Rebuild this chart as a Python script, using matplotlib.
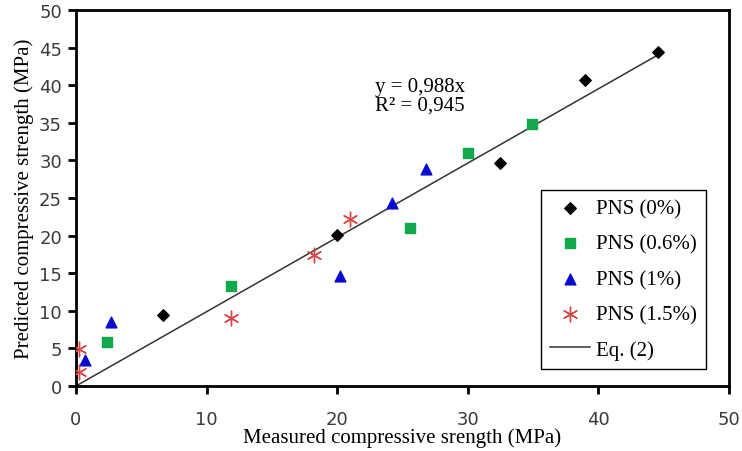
import matplotlib
matplotlib.use("Agg")
import matplotlib.pyplot as plt
import numpy as np

# Measured vs. predicted compressive strength (MPa) for each PNS dosage
pns0_measured = [6.7, 20.0, 32.5, 39.0, 44.6]
pns0_predicted = [9.4, 20.1, 29.7, 40.7, 44.4]

pns06_measured = [2.4, 11.9, 25.6, 30.0, 34.9]
pns06_predicted = [5.85, 13.3, 21.0, 31.0, 34.8]

pns1_measured = [0.7, 2.7, 20.2, 24.2, 26.8]
pns1_predicted = [3.4, 8.5, 14.6, 24.4, 28.8]

pns15_measured = [0.2, 0.2, 11.9, 18.2, 21.0]
pns15_predicted = [4.9, 1.9, 9.0, 17.4, 22.2]

slope = 0.988
r_squared = 0.945
fit_x_end = 44.7

x_ticks = [0, 10, 20, 30, 40, 50]
y_ticks = [0, 5, 10, 15, 20, 25, 30, 35, 40, 45, 50]

serif = ["Liberation Serif", "DejaVu Serif"]
sans = ["DejaVu Sans"]

fig = plt.figure(figsize=(7.42, 4.52), dpi=100)
ax = fig.add_axes([0.1024, 0.1438, 0.8801, 0.8319])

ax.scatter(pns0_measured, pns0_predicted, marker="D", s=34, color="black",
           label="PNS (0%)", zorder=3)
ax.scatter(pns06_measured, pns06_predicted, marker="s", s=60, color="#12a84c",
           label="PNS (0.6%)", zorder=3)
ax.scatter(pns1_measured, pns1_predicted, marker="^", s=60, color="#0a0ad0",
           label="PNS (1%)", zorder=3)
ax.scatter(pns15_measured, pns15_predicted, marker=(6, 2, 0), s=110,
           color="#d84545", linewidths=1.0, label="PNS (1.5%)", zorder=3)

fit_x = np.array([0.0, fit_x_end])
ax.plot(fit_x, slope * fit_x, color="#333333", linewidth=1.1,
        label="Eq. (2)", zorder=2)

ax.text(22.9, 39.8, f"y = {slope:.3f}x".replace(".", ","),
        fontfamily=serif, fontsize=15, ha="left", va="center")
ax.text(22.9, 37.4, f"R² = {r_squared:.3f}".replace(".", ","),
        fontfamily=serif, fontsize=15, ha="left", va="center")

ax.set_xlim(0, 50)
ax.set_ylim(0, 50)
ax.set_xticks(x_ticks)
ax.set_yticks(y_ticks)
ax.tick_params(axis="both", direction="out", length=6, width=2,
               labelsize=13, colors="black")
ax.tick_params(axis="x", pad=11)
ax.tick_params(axis="y", pad=4)
for lab in ax.get_xticklabels() + ax.get_yticklabels():
    lab.set_fontfamily(sans)
    lab.set_color("#3a3a3a")

for sp in ax.spines.values():
    sp.set_linewidth(2)
    sp.set_color("black")

ax.set_xlabel("Measured compressive srength (MPa)", fontfamily=serif,
              fontsize=15, labelpad=0)
ax.set_ylabel("Predicted compressive strength (MPa)", fontfamily=serif,
              fontsize=15, labelpad=4)

leg = ax.legend(loc="lower right", bbox_to_anchor=(0.965, 0.045),
                prop={"family": serif, "size": 15}, frameon=True,
                fancybox=False, edgecolor="black", framealpha=1,
                labelspacing=0.75, handlelength=1.9, handletextpad=0.3,
                borderpad=0.45, borderaxespad=0)
leg.get_frame().set_linewidth(1.0)

fig.savefig("out.png", dpi=100)
